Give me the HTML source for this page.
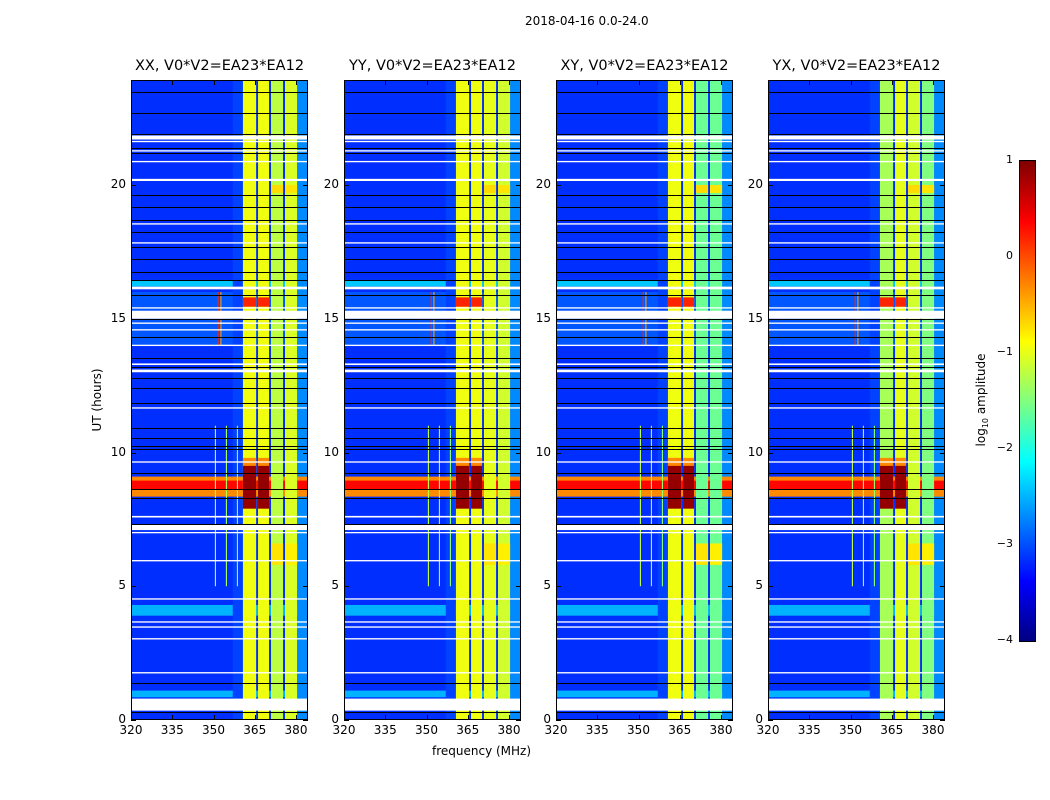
<!DOCTYPE html>
<html><head><meta charset="utf-8">
<style>
body{margin:0;background:#fff;width:1050px;height:800px;position:relative;overflow:hidden;font-family:"DejaVu Sans","Liberation Sans",sans-serif;color:#000}
.t{position:absolute;white-space:nowrap}
canvas{position:absolute;image-rendering:pixelated}
</style></head><body>
<div class="t" style="left:525px;top:14px;font-size:12px">2018-04-16 0.0-24.0</div>
<div class="t" style="left:432px;top:744px;font-size:12px">frequency (MHz)</div>
<div class="t" style="left:97px;top:400px;font-size:12px;transform:translate(-50%,-50%) rotate(-90deg)">UT (hours)</div>
<div class="t" style="left:982px;top:400px;font-size:12px;transform:translate(-50%,-50%) rotate(-90deg)">log<sub style="font-size:8px">10</sub> amplitude</div>
<div id="root"></div>
<script>
// ---- data ----
const panelTitles = ["XX, V0*V2=EA23*EA12","YY, V0*V2=EA23*EA12","XY, V0*V2=EA23*EA12","YX, V0*V2=EA23*EA12"];
const panelLefts = [131,344,556,768];
const xTicks = [320,335,350,365,380];
const yTicks = [0,5,10,15,20];
const cbTicks = [1,0,-1,-2,-3,-4];
const bandEdges = [[360.7,365.5],[366.2,370.2],[370.9,375.3],[376.0,380.4]];
const bandLevels = [[-0.95,-0.95,-1.2,-1.05],[-0.95,-0.95,-1.0,-1.1],[-0.95,-0.95,-1.6,-1.6],[-1.3,-1.0,-1.1,-1.5]];
const backgroundLevel = -3.15;
const bgSegments = [[16.2,16.45,-2.4],[3.9,4.3,-2.5],[0.85,1.1,-2.5],[14.0,16.0,-2.95]];
const sideZones = [[357.0,360.7,-3.05],[380.4,384,-2.7]];
const bandOverrides = [[15.45,15.8,0,0.2],[15.45,15.8,1,0.2],[7.9,9.6,0,0.9],[7.9,9.6,1,0.9],[9.5,9.8,0,-0.3],[9.5,9.8,1,-0.3],[5.8,6.6,2,-0.75],[5.8,6.6,3,-0.8],[19.7,20.0,2,-0.7],[19.7,20.0,3,-0.75]];
const hEvents = [[8.35,9.1,-0.3],[8.6,8.95,0.35]];
const vLines = [[351.5,14.0,16.0,0.2],[352.5,14.0,16.0,-0.4],[350.5,5.0,11.0,-1.2],[354.5,5.0,11.0,-1.3],[358.5,5.0,11.0,-1.4]];
const whiteRows = [[21.7,21.85],[21.6,21.65],[21.25,21.3],[20.85,20.9],[20.15,20.23],[18.52,18.57],[17.81,17.86],[16.1,16.2],[15.0,15.3],[15.38,15.43],[14.81,14.86],[14.56,14.61],[13.98,14.03],[13.27,13.33],[13.0,13.1],[11.64,11.69],[9.62,9.67],[7.57,7.63],[7.1,7.3],[6.98,7.03],[5.93,5.98],[4.5,4.55],[3.64,3.69],[3.45,3.5],[3.01,3.06],[1.74,1.79],[0.35,0.8]];
const blackRows = [23.47,22.68,21.9,21.38,21.2,19.63,19.18,18.69,18.24,17.7,17.23,16.76,16.45,15.9,15.0,14.3,13.53,13.2,12.78,12.4,11.85,10.9,10.54,10.24,10.13,9.23,8.63,8.3,7.33,1.38,0.3];
// ---- geometry ----
const PW=177, PH=640, TOP=80;
const fx = f => (f-320)*2.75;
const hy = h => PH - h*26.75;
function jet(v){let t=(v+4)/5;t=Math.max(0,Math.min(1,t));const c=x=>Math.round(255*Math.max(0,Math.min(1,x)));return `rgb(${c(1.5-Math.abs(4*t-3))},${c(1.5-Math.abs(4*t-2))},${c(1.5-Math.abs(4*t-1))})`;}
const root=document.getElementById('root');
function addText(txt,x,y,size,name,align){const d=document.createElement('div');d.className='t';d.textContent=txt;d.style.fontSize=size+'px';d.style.top=y+'px';
d.style.left=x+'px';if(align==='c')d.style.transform='translateX(-50%)';if(align==='r')d.style.transform='translateX(-100%)';


root.appendChild(d);return d;}
panelLefts.forEach((L,p)=>{
  const cv=document.createElement('canvas');cv.width=PW;cv.height=PH;cv.style.left=L+'px';cv.style.top=TOP+'px';
  
  
  root.appendChild(cv);const g=cv.getContext('2d');
  const rect=(f0,f1,h0,h1,col)=>{g.fillStyle=col;const x0=fx(f0),x1=fx(f1),y0=hy(h1),y1=hy(h0);g.fillRect(x0,y0,x1-x0,y1-y0);};
  rect(320,384.4,0,24,jet(backgroundLevel));
  bgSegments.forEach(s=>rect(320,384.4,s[0],s[1],jet(s[2])));
  sideZones.forEach(s=>rect(s[0],s[1],0,24,jet(s[2])));
  hEvents.forEach(e=>rect(320,384.4,e[0],e[1],jet(e[2])));
  vLines.forEach(v=>rect(v[0],v[0]+0.4,v[1],v[2],jet(v[3])));
  bandEdges.forEach((b,i)=>rect(b[0],b[1],0,24,jet(bandLevels[p][i])));
  bandOverrides.forEach(o=>{const b=bandEdges[o[2]];rect(b[0],b[1],o[0],o[1],jet(o[3]));});
  whiteRows.forEach(w=>rect(320,384.4,w[0],w[1],'#fff'));
  g.fillStyle='#000';blackRows.forEach(h=>g.fillRect(0,Math.round(hy(h)),PW,1));
  const fr=document.createElement('div');fr.style.cssText=`position:absolute;left:${L}px;top:${TOP}px;width:${PW}px;height:${PH}px;border:1px solid #000;box-sizing:border-box`;
  
  
  root.appendChild(fr);
  xTicks.forEach(t=>{const x=L+fx(t);
    [TOP+PH-5,TOP].forEach(y=>{const k=document.createElement('div');k.style.cssText=`position:absolute;left:${x}px;top:${y}px;width:1px;height:5px;background:#000`;
    
    
    root.appendChild(k);});
    addText(String(t),x,TOP+PH+3,12,'x-tick-label','c');});
  yTicks.forEach(t=>{const y=TOP+hy(t);
    [L,L+PW-5].forEach(x=>{const k=document.createElement('div');k.style.cssText=`position:absolute;left:${x}px;top:${y}px;width:5px;height:1px;background:#000`;
    
    
    root.appendChild(k);});
    addText(String(t),L-5,y-8,12,'y-tick-label','r');});
  addText(panelTitles[p],L+PW/2,58,14.5,'panel-title','c');
});
const cb=document.createElement('canvas');cb.width=15;cb.height=480;cb.style.left='1019px';cb.style.top='160px';cb.style.border='1px solid #000';cb.style.boxSizing='border-box';


root.appendChild(cb);
const cg=cb.getContext('2d');for(let i=0;i<480;i++){cg.fillStyle=jet(1-5*i/480);cg.fillRect(0,i,15,1);}
cbTicks.forEach(t=>{const y=160+(1-t)*96;addText(t<0?'\u2212'+(-t):String(t),1013,y-7,11,'colorbar-tick-label','r');});
</script>
</body></html>
